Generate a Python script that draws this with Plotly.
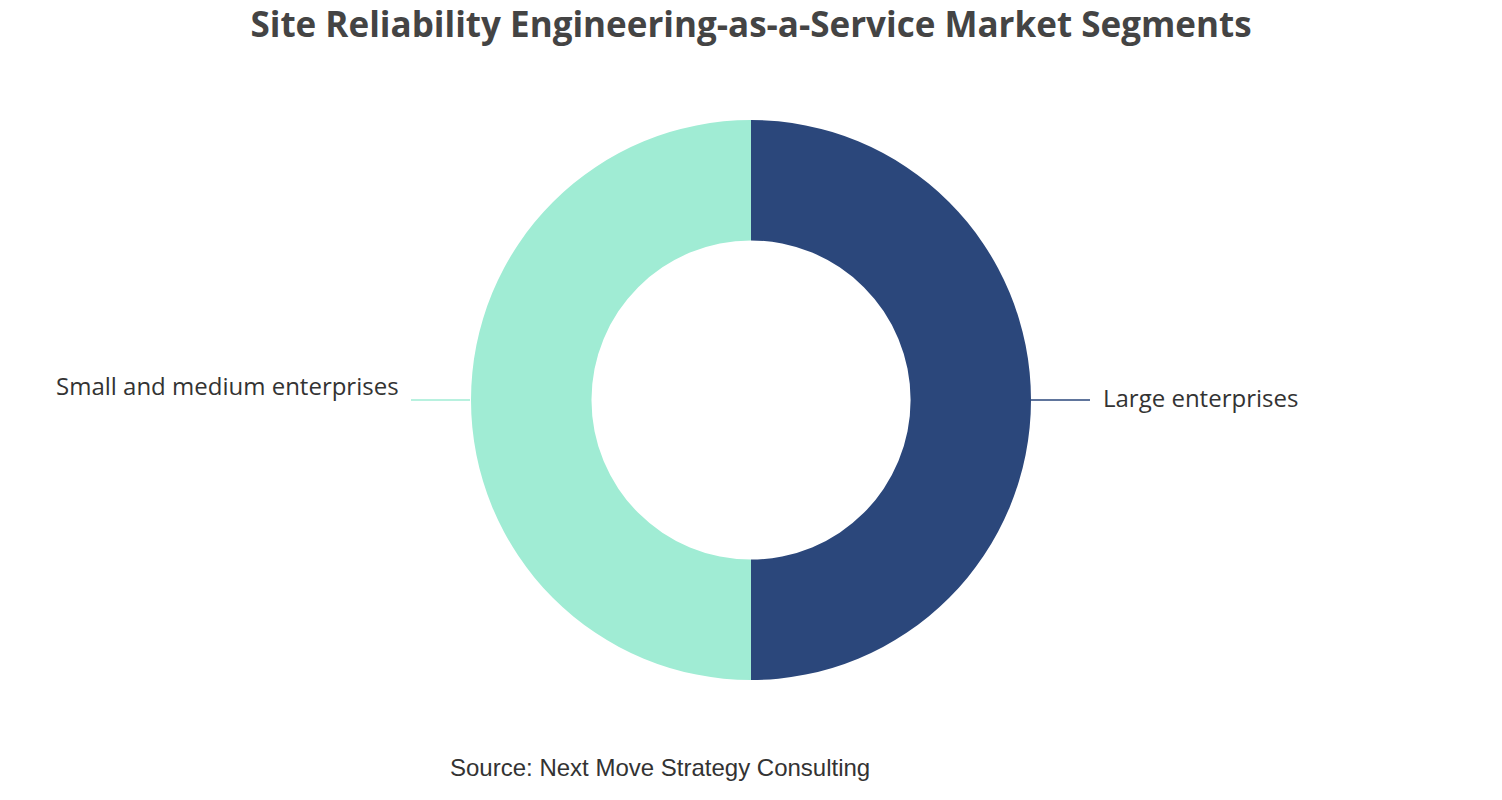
import plotly.graph_objects as go

segments = ["Large enterprises", "Small and medium enterprises"]
shares = [50, 50]
colors = ["#2B477B", "#A0ECD4"]

W, H = 1502, 800
OFF = 8  # page body margin
T, B, L, R = 112, 128, 0, 16

def px(xs):
    return (xs - OFF - L) / (W - L - R)

def py(ys):
    return (H - B - (ys - OFF)) / (H - T - B)

fig = go.Figure(go.Pie(
    labels=segments, values=shares, hole=0.57, sort=False,
    direction="clockwise", rotation=0,
    marker=dict(colors=colors, line=dict(width=0)),
    textinfo="none", hoverinfo="label+percent", showlegend=False,
))

# leader lines and outside labels
fig.add_shape(type="line", xref="paper", yref="paper",
              x0=px(1031), x1=px(1090), y0=py(400), y1=py(400),
              line=dict(color=colors[0], width=1.5))
fig.add_shape(type="line", xref="paper", yref="paper",
              x0=px(411), x1=px(470), y0=py(400), y1=py(400),
              line=dict(color=colors[1], width=1.5))
fig.add_annotation(text=segments[0], xref="paper", yref="paper",
                   x=px(1101), y=py(397), xanchor="left", yanchor="middle",
                   showarrow=False, font=dict(size=24, color="#333333"))
fig.add_annotation(text=segments[1], xref="paper", yref="paper",
                   x=px(401), y=py(385), xanchor="right", yanchor="middle",
                   showarrow=False, font=dict(size=24, color="#333333"))
fig.add_annotation(text="Source: Next Move Strategy Consulting", xref="paper", yref="paper",
                   x=px(660), y=py(767), xanchor="center", yanchor="middle",
                   showarrow=False, font=dict(size=24, color="#333333", family="Liberation Sans, Arial"))

fig.update_layout(
    width=W, height=H,
    margin=dict(t=T, b=B, l=L, r=R),
    paper_bgcolor="white", plot_bgcolor="white",
    font=dict(family="Open Sans, Lato, sans-serif"),
    title=dict(text="<b>Site Reliability Engineering-as-a-Service Market Segments</b>",
               x=(751 - OFF) / W, xanchor="center", y=1 - (25 - OFF) / H, yanchor="middle",
               font=dict(size=35, color="#444444", family="Open Sans, Lato, sans-serif")),
)

fig.write_html("out.html")
